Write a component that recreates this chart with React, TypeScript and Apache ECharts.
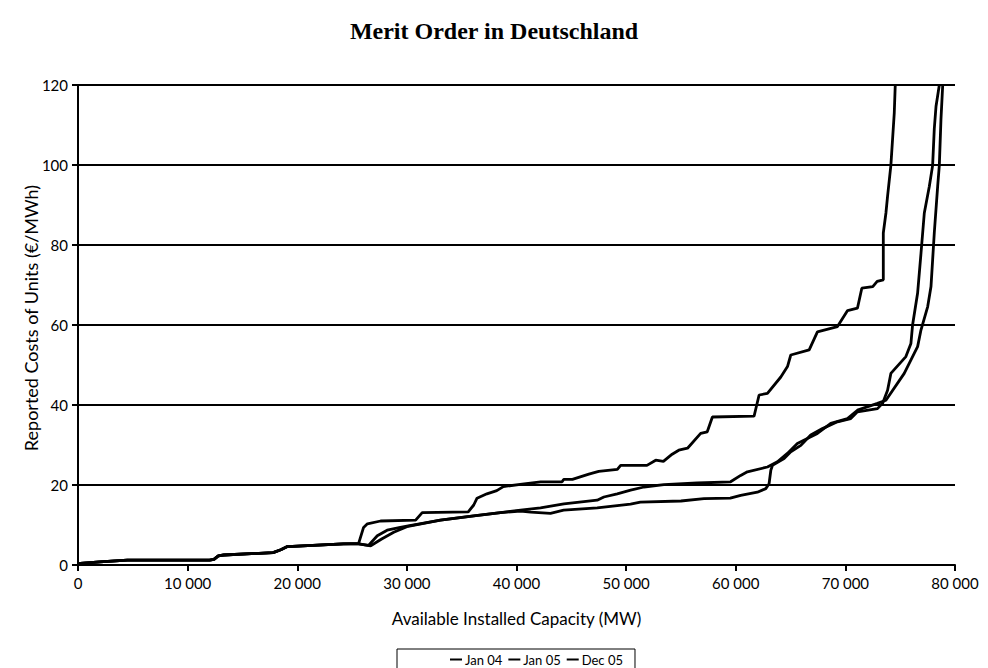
import React, { useEffect, useRef } from "react";
import * as echarts from "echarts";

const titleText = "Merit Order in Deutschland";
const xAxisName = "Available Installed Capacity (MW)";
const yAxisName = "Reported Costs of Units (€/MWh)";
const seriesNames = ["Jan 04", "Jan 05", "Dec 05"];

// [capacity MW, cost €/MWh]
const jan04: [number, number][] = [
  [0, 0], [200, 0.4], [2000, 0.8], [4500, 1.2], [12000, 1.2], [12400, 1.4], [12800, 2.3],
  [13300, 2.5], [17800, 3.1], [18500, 3.8], [19100, 4.6], [24200, 5.3], [25600, 5.3],
  [26500, 4.9], [27300, 7.3], [28200, 8.7], [29400, 9.4], [30000, 9.7], [33060, 11.2],
  [36100, 12.3], [38540, 13.1], [40370, 13.5], [41300, 13.2], [43100, 12.9], [44300, 13.7],
  [47360, 14.3], [50400, 15.2], [51300, 15.7], [55000, 16], [57100, 16.6], [59500, 16.7],
  [60450, 17.4], [61970, 18.2], [62740, 19.1], [63040, 20.3], [63200, 23.7], [63350, 24.9],
  [64410, 26.6], [65020, 28.3], [65940, 29.9], [66840, 32.5], [67910, 34.1], [69280, 35.8],
  [70490, 36.6], [71100, 38.3], [72930, 39.1], [73390, 40.4], [73850, 43.7], [74150, 47.9],
  [75520, 52.1], [75980, 55.4], [76130, 60], [76590, 68], [76900, 78], [77200, 88],
  [77660, 94.7], [77960, 99.9], [78110, 109], [78270, 114.7], [78570, 120],
];

const jan05: [number, number][] = [
  [0, 0], [200, 0.4], [2000, 0.8], [4500, 1.2], [12000, 1.2], [12400, 1.4], [12800, 2.3],
  [13300, 2.5], [17800, 3.1], [18500, 3.8], [19100, 4.6], [24200, 5.3], [25600, 5.3],
  [26700, 4.8], [27700, 6.5], [28800, 8.2], [30000, 9.6], [33060, 11.2], [36100, 12.3],
  [38540, 13.1], [40370, 13.7], [42190, 14.3], [44320, 15.3], [47360, 16.2], [47970, 17],
  [49190, 17.8], [50410, 18.7], [51630, 19.5], [53450, 20.1], [56490, 20.5], [59530, 20.8],
  [60450, 22.4], [61060, 23.3], [62890, 24.5], [63800, 25.8], [64710, 27.9], [65620, 30.4],
  [66530, 31.6], [67450, 32.9], [68670, 35.4], [70190, 36.6], [71100, 38.7], [72930, 40.4],
  [73700, 41.2], [75370, 47.9], [76280, 52.9], [76590, 54.6], [76900, 58.8], [77510, 64.6],
  [77810, 69.6], [77960, 76.3], [78110, 83], [78420, 94.7], [78570, 99.9], [78720, 111.4],
  [78880, 120],
];

const dec05: [number, number][] = [
  [0, 0], [200, 0.4], [2000, 0.8], [4500, 1.2], [12000, 1.2], [12400, 1.4], [12800, 2.3],
  [13300, 2.5], [17800, 3.1], [18500, 3.8], [19100, 4.6], [24200, 5.3], [25600, 5.4],
  [26050, 9.4], [26400, 10.3], [27600, 11], [30800, 11.2], [31400, 13.1], [35600, 13.3],
  [36100, 15], [36400, 16.7], [37300, 17.8], [38200, 18.6], [38800, 19.6], [40700, 20.3],
  [42200, 20.8], [44160, 20.8], [44300, 21.4], [45100, 21.4], [46600, 22.7], [47500, 23.4],
  [49200, 23.9], [49500, 24.9], [51900, 24.9], [52700, 26.2], [53400, 25.9], [54200, 27.7],
  [54800, 28.7], [55600, 29.2], [56800, 32.9], [57400, 33.3], [57870, 37], [61670, 37.2],
  [62130, 42.5], [62890, 42.9], [64110, 47], [64720, 49.6], [65020, 52.5], [66700, 53.8],
  [67450, 58.3], [69280, 59.6], [70200, 63.6], [71100, 64.2], [71500, 69.2], [72500, 69.6],
  [72900, 70.9], [73460, 71.3], [73460, 83], [73700, 88], [73850, 92.2], [74150, 99.9],
  [74460, 113], [74550, 120],
];

const seriesData = [jan04, jan05, dec05];

const fmtThousands = (v: number) =>
  String(Math.round(v)).replace(/\B(?=(\d{3})+(?!\d))/g, " ");

export default function App() {
  const ref = useRef<HTMLDivElement>(null);
  useEffect(() => {
    if (!ref.current) return;
    const chart = echarts.init(ref.current, undefined, { renderer: "svg" });
    const labelFont = "Lato, 'Open Sans', sans-serif";
    chart.setOption({
      animation: false,
      backgroundColor: "#fff",
      title: {
        text: titleText,
        left: "center",
        top: 14,
        textStyle: {
          fontFamily: "'Liberation Serif', 'Times New Roman', serif",
          fontWeight: "bold",
          fontSize: 24,
          color: "#000",
        },
      },
      grid: { left: 78, right: 33, top: 85, bottom: 103, containLabel: false },
      legend: {
        data: seriesNames,
        left: 397,
        top: 649,
        orient: "horizontal",
        icon: "rect",
        itemWidth: 12,
        itemHeight: 2,
        itemGap: 6,
        padding: [4, 12, 12, 53],
        borderColor: "#000",
        borderWidth: 1,
        textStyle: { fontFamily: labelFont, fontSize: 13, color: "#000", padding: [0, 0, 0, -2] },
      },
      xAxis: {
        type: "value",
        min: 0,
        max: 80000,
        interval: 10000,
        name: xAxisName,
        nameLocation: "middle",
        nameGap: 45,
        nameMoveOverlap: false,
        nameTextStyle: { fontFamily: labelFont, fontSize: 17, color: "#000" },
        axisLine: { show: true, lineStyle: { color: "#000", width: 2 } },
        axisTick: { show: true, length: 6, lineStyle: { color: "#000", width: 2 } },
        axisLabel: {
          fontFamily: labelFont,
          fontSize: 15,
          color: "#000",
          margin: 10,
          formatter: (v: number) => fmtThousands(v),
        },
        splitLine: { show: false },
      },
      yAxis: {
        type: "value",
        min: 0,
        max: 120,
        interval: 20,
        name: yAxisName,
        nameLocation: "middle",
        nameRotate: 90,
        nameGap: 38,
        nameMoveOverlap: false,
        nameTextStyle: {
          fontFamily: labelFont,
          fontSize: 18,
          color: "#000",
          padding: [0, 0, 0, 14],
        },
        axisLine: { show: true, lineStyle: { color: "#000", width: 2 } },
        axisTick: { show: true, length: 6, lineStyle: { color: "#000", width: 2 } },
        axisLabel: { fontFamily: labelFont, fontSize: 15, color: "#000", margin: 10 },
        splitLine: { show: true, lineStyle: { color: "#000", width: 2 } },
      },
      series: seriesNames.map((name, i) => ({
        name,
        type: "line",
        data: seriesData[i],
        showSymbol: false,
        symbol: "none",
        lineStyle: { color: "#000", width: 2.8 },
        itemStyle: { color: "#000" },
        emphasis: { disabled: true },
      })),
    });
    return () => chart.dispose();
  }, []);
  return (
    <div
      ref={ref}
      style={{ position: "absolute", left: 0, top: 0, width: 988, height: 668 }}
    />
  );
}
